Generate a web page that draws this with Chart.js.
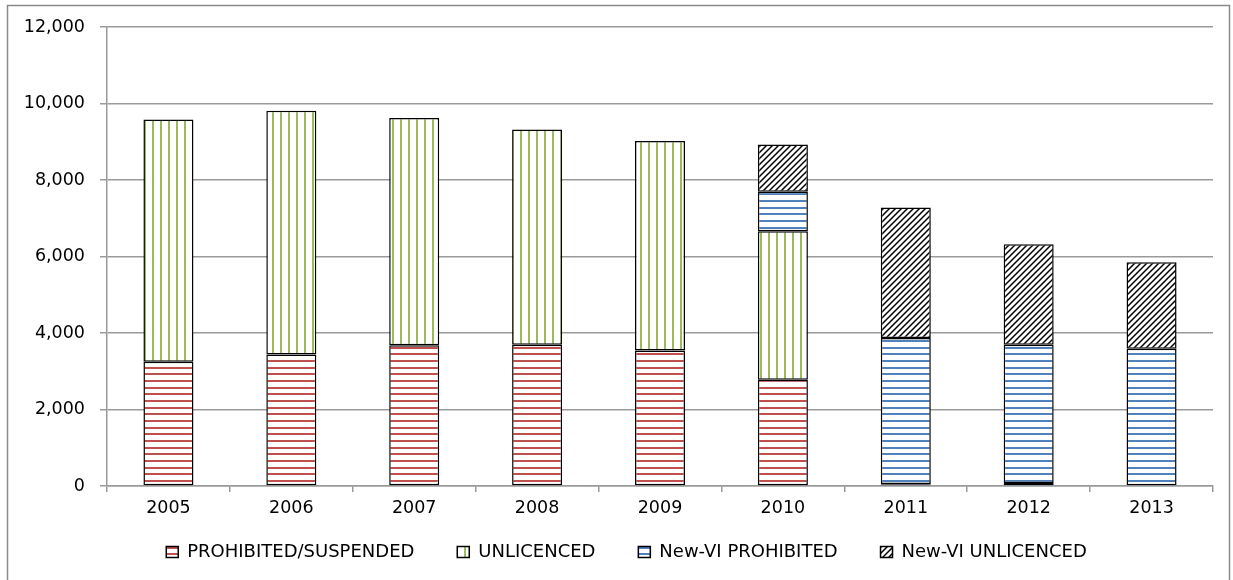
<!DOCTYPE html>
<html><head><meta charset="utf-8">
<script src="https://cdn.jsdelivr.net/npm/chart.js@4"></script>
<style>html,body{margin:0;padding:0;background:#fff}</style>
</head><body>
<canvas id="c" width="1233" height="580"></canvas>
<script>
// ---- data ----
const years = ['2005','2006','2007','2008','2009','2010','2011','2012','2013'];
const prohibitedSuspended = [3250, 3440, 3680, 3690, 3540, 2780, 30, 50, null];
const unlicenced          = [6330, 6370, 5940, 5630, 5480, 3880, 20, 30, null];
const newViProhibited     = [null, null, null, null, null, 1030, 3820, 3610, 3590];
const newViUnlicenced     = [null, null, null, null, null, 1240, 3410, 2630, 2260];
const seriesNames = ['PROHIBITED/SUSPENDED', 'UNLICENCED', 'New-VI PROHIBITED', 'New-VI UNLICENCED'];
const yMax = 12000, yStep = 2000;

// ---- patterns ----
function hStripes(color){
  const c=document.createElement('canvas'); c.width=4; c.height=20;
  const x=c.getContext('2d'); x.fillStyle='#fff'; x.fillRect(0,0,4,20);
  x.fillStyle=color; [0,7,13].forEach(y=>x.fillRect(0,y,4,2));
  return x.createPattern(c,'repeat');
}
function vStripes(color){
  const c=document.createElement('canvas'); c.width=8; c.height=4;
  const x=c.getContext('2d'); x.fillStyle='#fff'; x.fillRect(0,0,8,4);
  x.fillStyle=color; x.fillRect(0,0,2,4);
  return x.createPattern(c,'repeat');
}
function hatch(){
  const s=6, c=document.createElement('canvas'); c.width=s; c.height=s;
  const x=c.getContext('2d'); x.fillStyle='#fff'; x.fillRect(0,0,s,s);
  x.strokeStyle='#000'; x.lineWidth=1.5;
  x.beginPath(); x.moveTo(0,s); x.lineTo(s,0);
  x.moveTo(-1,1); x.lineTo(1,-1); x.moveTo(s-1,s+1); x.lineTo(s+1,s-1); x.stroke();
  return x.createPattern(c,'repeat');
}
const ctx=document.getElementById('c').getContext('2d');
const fills=[hStripes('#C0504D'), vStripes('#9BBB59'), hStripes('#4F81BD'), hatch()];
const values=[prohibitedSuspended, unlicenced, newViProhibited, newViUnlicenced];

const datasets = seriesNames.map((n,i)=>({
  label: n,
  data: values[i],
  backgroundColor: fills[i],
  borderColor: '#000',
  borderWidth: 1.5,
  borderSkipped: false,
  barPercentage: 0.407,
  categoryPercentage: 1.0
}));

const frame = {
  id:'frame',
  beforeDraw(chart){
    const c=chart.ctx; c.save();
    c.fillStyle='#fff'; c.fillRect(0,0,chart.width,chart.height);
    c.strokeStyle='#8a8a8a'; c.lineWidth=1.5;
    c.strokeRect(7.5,5.5,1222,620);
    c.restore();
  }
};

new Chart(ctx,{
  type:'bar',
  data:{labels:years, datasets},
  plugins:[frame],
  options:{
    responsive:false,
    animation:false,
    layout:{padding:{top:27,right:0,left:20,bottom:9}},
    plugins:{
      tooltip:{enabled:false},
      legend:{
        position:'bottom',
        labels:{
          color:'#000',
          font:{family:'DejaVu Sans', size:18},
          boxWidth:12, boxHeight:11,
          padding:20,
          generateLabels(chart){
            const items = Chart.defaults.plugins.legend.labels.generateLabels(chart);
            items.forEach((it,i)=>{ if(i<items.length-1) it.text = it.text + '    '; });
            return items;
          }
        }
      }
    },
    scales:{
      x:{
        stacked:true,
        afterFit(s){ s.height=37; },
        grid:{display:true, drawOnChartArea:false, drawTicks:true, tickLength:6, color:'#9a9a9a', lineWidth:1.5, offset:true},
        border:{color:'#9a9a9a', width:1.5},
        ticks:{color:'#000', font:{family:'DejaVu Sans', size:17.5}, padding:6, maxRotation:0}
      },
      y:{
        stacked:true,
        min:0, max:yMax,
        afterFit(s){ s.width=87; },
        grid:{color:'#9a9a9a', lineWidth:1.5, tickLength:7},
        border:{color:'#9a9a9a', width:1.5},
        ticks:{stepSize:yStep, color:'#000', font:{family:'DejaVu Sans', size:17.5}, padding:15,
          callback:v=>v.toLocaleString('en-US')}
      },
      spacer:{
        type:'linear', position:'right', display:true,
        afterFit(s){ s.width=20; },
        grid:{display:false, drawTicks:false},
        border:{display:false},
        ticks:{display:false}
      }
    }
  }
});
</script>
</body></html>
